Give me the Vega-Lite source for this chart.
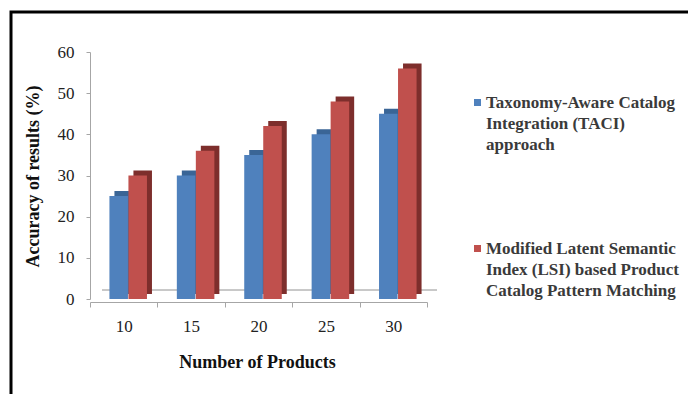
{
  "$schema": "https://vega.github.io/schema/vega-lite/v6.json",
  "autosize": "none",
  "width": 682,
  "height": 388,
  "padding": {"left": 11, "top": 12, "right": 0, "bottom": 0},
  "background": "white",
  "config": {
    "font": "Liberation Serif",
    "view": {"stroke": "#000", "strokeWidth": 3, "fill": "white"},
    "axis": {"labelFont": "Liberation Serif", "titleFont": "Liberation Serif", "labelColor": "#222", "titleColor": "#111", "domainColor": "#a6a6a6", "tickColor": "#a6a6a6", "grid": false},
    "legend": {"labelFont": "Liberation Serif"}
  },
  "data": {
    "values": [
      {"products": "10", "series": "TACI", "accuracy": 25},
      {"products": "10", "series": "LSI", "accuracy": 30},
      {"products": "15", "series": "TACI", "accuracy": 30},
      {"products": "15", "series": "LSI", "accuracy": 36},
      {"products": "20", "series": "TACI", "accuracy": 35},
      {"products": "20", "series": "LSI", "accuracy": 42},
      {"products": "25", "series": "TACI", "accuracy": 40},
      {"products": "25", "series": "LSI", "accuracy": 48},
      {"products": "30", "series": "TACI", "accuracy": 45},
      {"products": "30", "series": "LSI", "accuracy": 56}
    ]
  },
  "encoding": {
    "x": {
      "field": "products", "type": "ordinal", "sort": ["10", "15", "20", "25", "30"],
      "scale": {"range": [79, 416], "paddingInner": 0, "paddingOuter": 0},
      "axis": {
        "orient": "bottom", "offset": -98, "labelAngle": 0, "labelFont": "Liberation Serif", "labelFontSize": 17, "labelPadding": 11,
        "tickBand": "extent", "tickSize": 5, "title": "Number of Products", "titleFont": "Liberation Serif", "titleFontSize": 18,
        "titleFontWeight": "bold", "titleX": 246, "titleY": 60, "titleBaseline": "middle", "titleAlign": "center"
      }
    },
    "y": {
      "field": "accuracy", "type": "quantitative",
      "scale": {"domain": [0, 60], "range": [287, 40], "nice": false},
      "axis": {
        "offset": -79, "values": [0, 10, 20, 30, 40, 50, 60], "labelFont": "Liberation Serif", "labelFontSize": 17, "tickSize": 4, "labelPadding": 12,
        "title": "Accuracy of results (%)", "titleFont": "Liberation Serif", "titleFontSize": 18, "titleFontWeight": "bold",
        "titleX": -57, "titleY": 164, "titleAlign": "center", "titleBaseline": "middle", "titleAngle": -90
      }
    }
  },
  "layer": [
    {
      "mark": {"type": "rule", "color": "#c8c8c8", "xOffset": 12, "x2Offset": 10, "yOffset": -9},
      "encoding": {
        "x": {"datum": "10", "type": "ordinal", "bandPosition": 0},
        "x2": {"datum": "30", "bandPosition": 1},
        "y": {"datum": 0, "type": "quantitative"}
      }
    },
    {
      "transform": [{"filter": "datum.series == 'TACI'"}],
      "mark": {"type": "bar", "width": {"band": 0.275}, "xOffset": 0, "yOffset": -5, "color": "#3a6596"}
    },
    {
      "transform": [{"filter": "datum.series == 'LSI'"}],
      "mark": {"type": "bar", "width": {"band": 0.275}, "xOffset": 19, "yOffset": -5, "color": "#7d2e2c"}
    },
    {
      "transform": [{"filter": "datum.series == 'TACI'"}],
      "mark": {"type": "bar", "width": {"band": 0.275}, "xOffset": -5},
      "encoding": {
        "color": {
          "field": "series", "type": "nominal",
          "scale": {"domain": ["TACI", "LSI"], "range": ["#4f81bd", "#c0504d"]},
          "legend": {
            "orient": "none", "legendX": 458, "legendY": 82, "title": null, "padding": 0,
            "symbolType": "square", "symbolSize": 49, "symbolStrokeWidth": 0,
            "labelFont": "Liberation Serif", "labelFontSize": 17, "labelFontWeight": "bold", "labelColor": "#3a3a3a", "labelLimit": 0,
            "labelBaseline": "top", "rowPadding": 86, "labelOffset": 0,
            "labelExpr": "datum.label == 'TACI' ? ['Taxonomy-Aware Catalog', 'Integration (TACI)', 'approach'] : ['Modified Latent Semantic', 'Index (LSI) based Product', 'Catalog Pattern Matching']",
            "encode": {"labels": {"update": {"lineHeight": {"value": 21}, "dy": {"value": -8}}}}
          }
        }
      }
    },
    {
      "transform": [{"filter": "datum.series == 'LSI'"}],
      "mark": {"type": "bar", "width": {"band": 0.275}, "xOffset": 14},
      "encoding": {
        "color": {"field": "series", "type": "nominal", "scale": {"domain": ["TACI", "LSI"], "range": ["#4f81bd", "#c0504d"]}}
      }
    }
  ]
}
